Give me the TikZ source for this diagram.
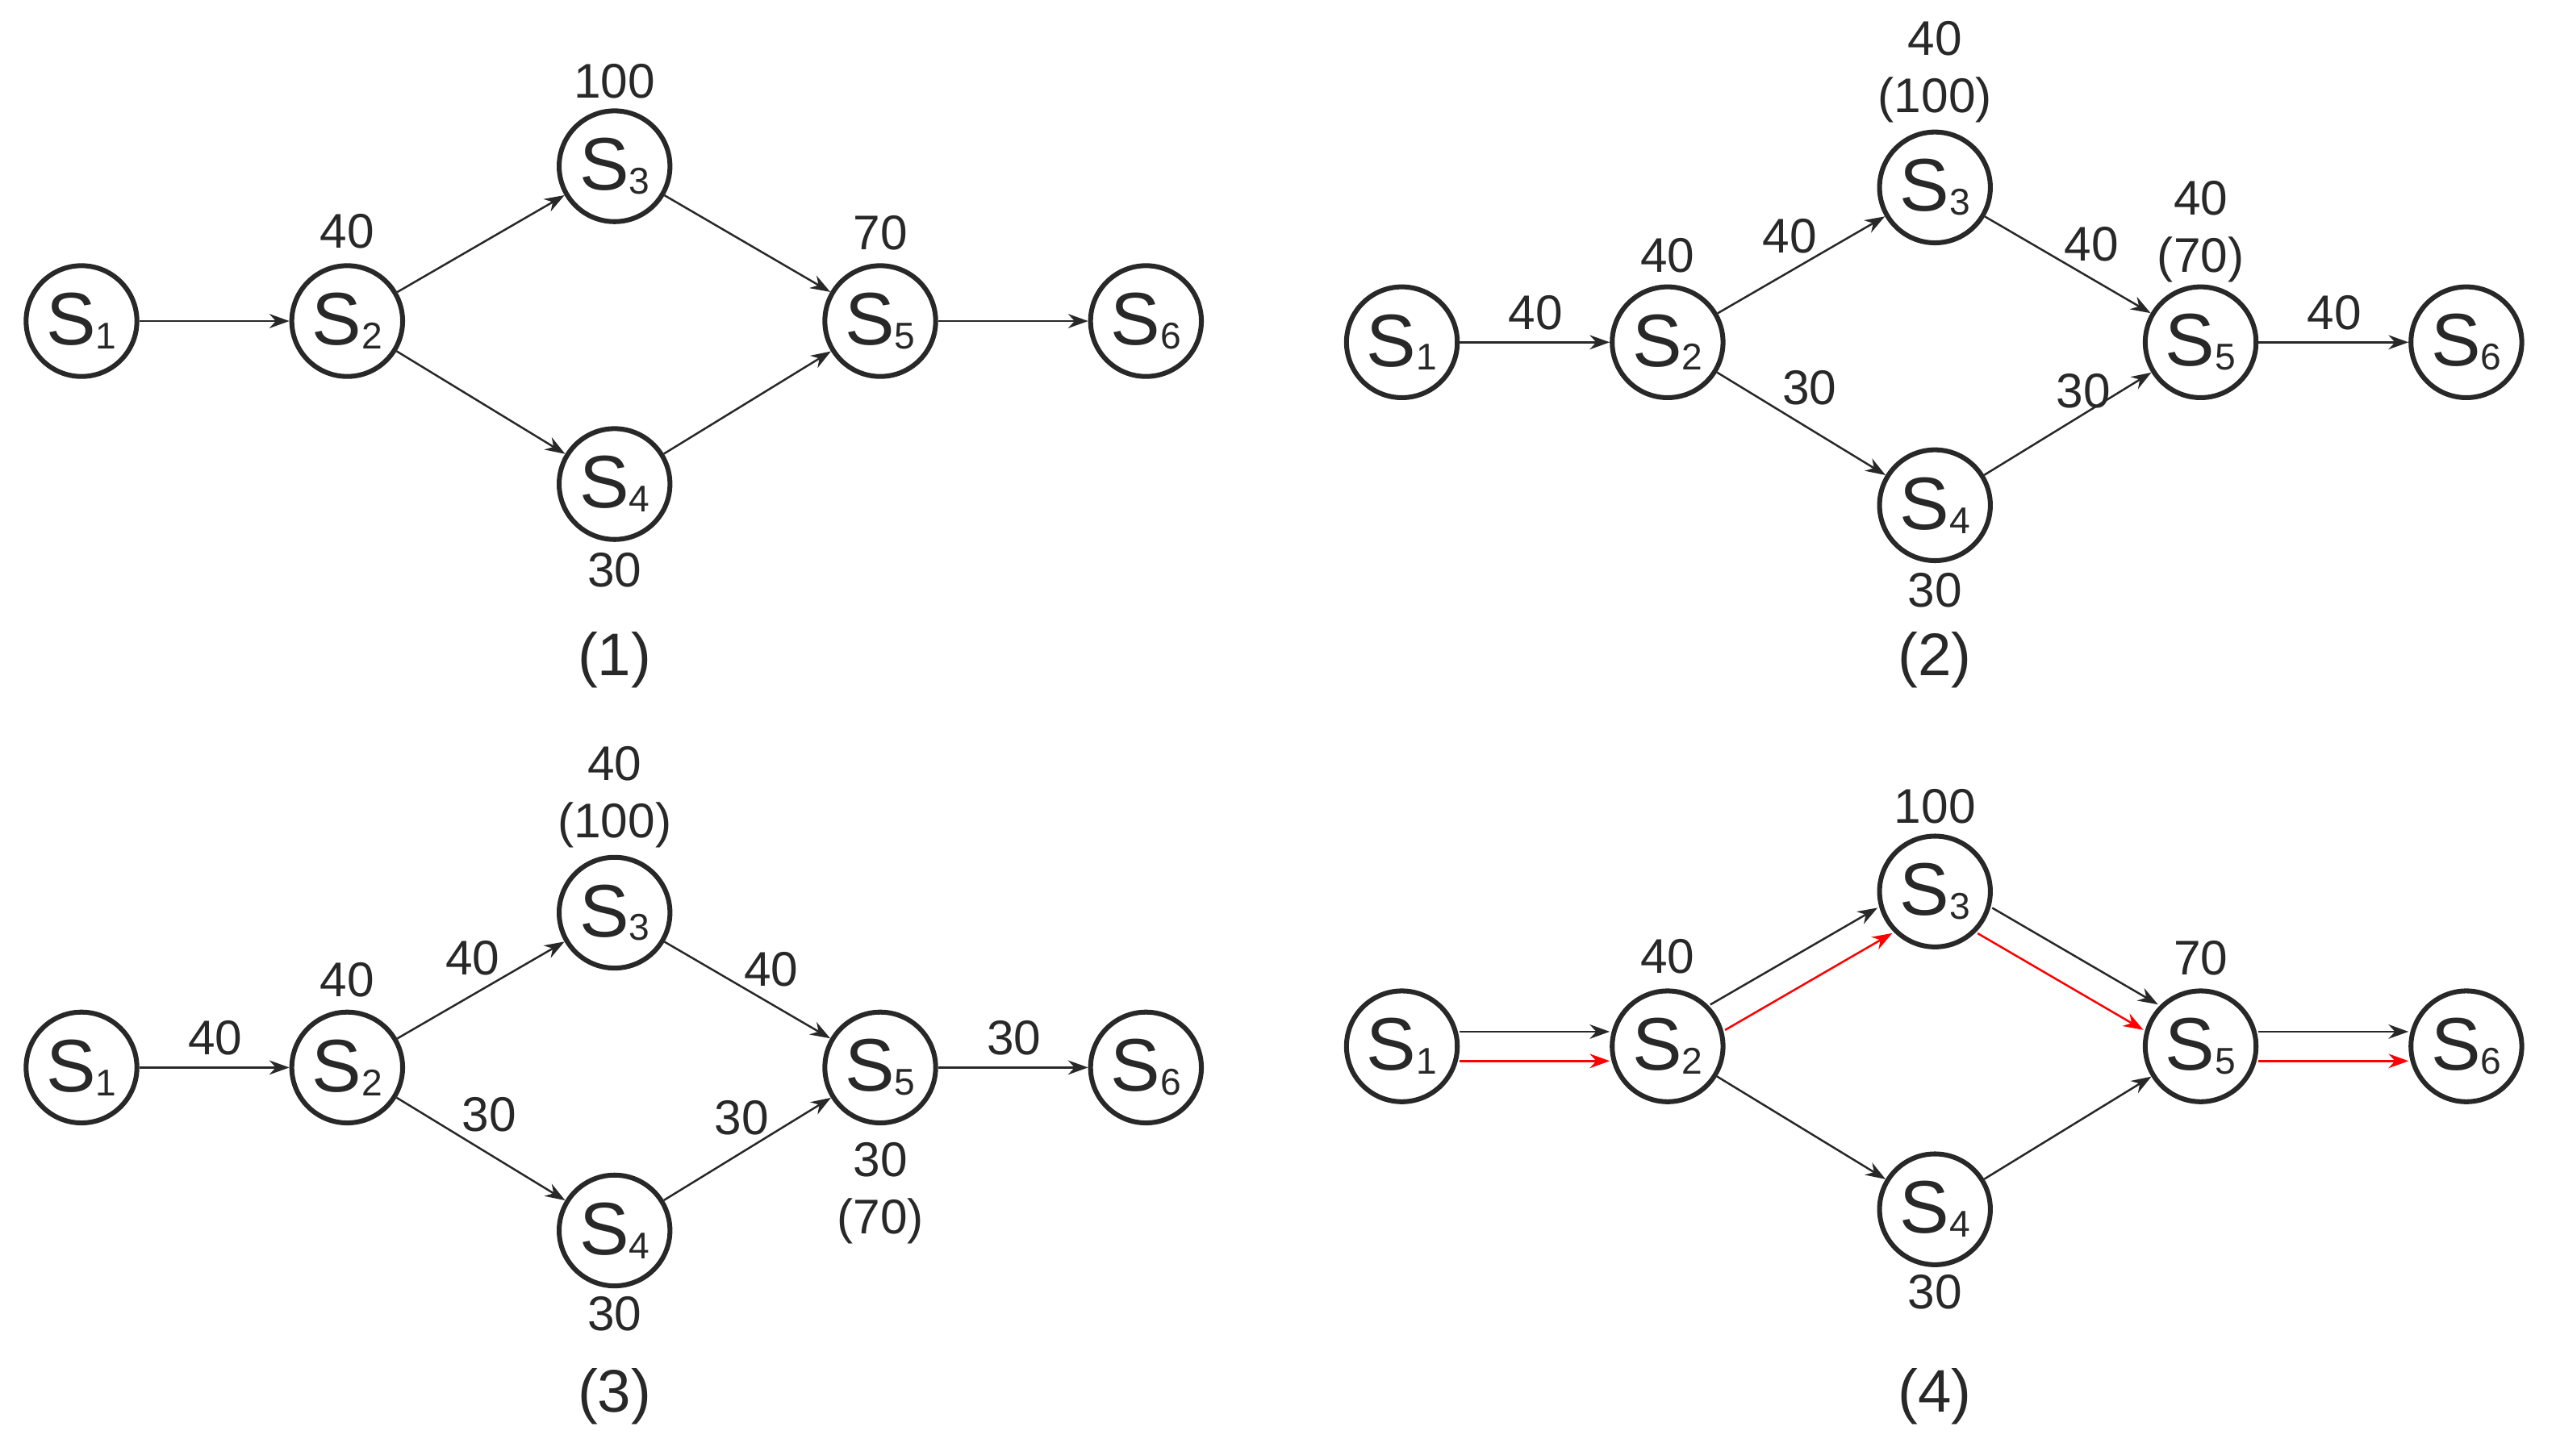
\documentclass[tikz,border=0pt]{standalone}
\usepackage{fontspec}
\setmainfont{Liberation Sans}
\usetikzlibrary{arrows.meta}
\definecolor{ink}{RGB}{40,40,40}
\newcommand{\st}[1]{\fontsize{26}{26}\selectfont S\raisebox{-0.1ex}{\fontsize{13}{13}\selectfont #1}}
\tikzset{
 st/.style={circle,draw=ink,text=ink,line width=1.7pt,minimum size=1.36cm,inner sep=0pt,fill=white},
 ed/.style={line width=0.7pt,draw=ink,-{Stealth[length=7pt,width=5pt]}},
 redd/.style={ed,draw=red,red},
 lb/.style={font=\fontsize{17}{20}\selectfont,text=ink,inner sep=0pt,align=center},
 captxt/.style={font=\fontsize{21}{21}\selectfont,text=ink,inner sep=0pt}
}
\begin{document}
\begin{tikzpicture}[x=0.02cm,y=-0.02cm]
\useasboundingbox (0,0) rectangle (1568,893);
% panel 1
\node[st] (a1) at (50,197) {\st1};
\node[st] (a2) at (213,197) {\st2};
\node[st] (a3) at (377,102) {\st3};
\node[st] (a4) at (377,297) {\st4};
\node[st] (a5) at (540,197) {\st5};
\node[st] (a6) at (703,197) {\st6};
\foreach \u/\v in {a1/a2,a2/a3,a2/a4,a3/a5,a4/a5,a5/a6} \draw[ed] (\u)--(\v);
\node[lb] (a3l) at (377,50) {100};
\node[lb] (a2l) at (213,142) {40};
\node[lb] (a5l) at (540,143) {70};
\node[lb] (a4l) at (377,350) {30};
\node[captxt] (ac) at (377,405) {(1)};
% panel 2
\node[st] (b1) at (860,210) {\st1};
\node[st] (b2) at (1023,210) {\st2};
\node[st] (b3) at (1187,115) {\st3};
\node[st] (b4) at (1187,310) {\st4};
\node[st] (b5) at (1350,210) {\st5};
\node[st] (b6) at (1513,210) {\st6};
\foreach \u/\v in {b1/b2,b2/b3,b2/b4,b3/b5,b4/b5,b5/b6} \draw[ed] (\u)--(\v);
\node[lb] (b3l) at (1187,44) {40\\(100)};
\node[lb] (b2l) at (1023,157) {40};
\node[lb] (b5l) at (1350,142) {40\\(70)};
\node[lb] (b4l) at (1187,362) {30};
\node[lb] (e1) at (942,192) {40};
\node[lb] (e2) at (1098,145) {40};
\node[lb] (e3) at (1110,238) {30};
\node[lb] (e4) at (1283,150) {40};
\node[lb] (e5) at (1278,240) {30};
\node[lb] (e6) at (1432,192) {40};
\node[captxt] (bc) at (1187,405) {(2)};
% panel 3
\node[st] (c1) at (50,655) {\st1};
\node[st] (c2) at (213,655) {\st2};
\node[st] (c3) at (377,560) {\st3};
\node[st] (c4) at (377,755) {\st4};
\node[st] (c5) at (540,655) {\st5};
\node[st] (c6) at (703,655) {\st6};
\foreach \u/\v in {c1/c2,c2/c3,c2/c4,c3/c5,c4/c5,c5/c6} \draw[ed] (\u)--(\v);
\node[lb] (c3l) at (377,489) {40\\(100)};
\node[lb] (c2l) at (213,601) {40};
\node[lb] (c5l) at (540,732) {30\\(70)};
\node[lb] (c4l) at (377,806) {30};
\node[lb] (f1) at (132,637) {40};
\node[lb] (f2) at (290,588) {40};
\node[lb] (f3) at (300,684) {30};
\node[lb] (f4) at (473,595) {40};
\node[lb] (f5) at (455,686) {30};
\node[lb] (f6) at (622,637) {30};
\node[captxt] (cc) at (377,857) {(3)};
% panel 4
\node[st] (d1) at (860,642) {\st1};
\node[st] (d2) at (1023,642) {\st2};
\node[st] (d3) at (1187,547) {\st3};
\node[st] (d4) at (1187,742) {\st4};
\node[st] (d5) at (1350,642) {\st5};
\node[st] (d6) at (1513,642) {\st6};
\draw[ed] (d2)--(d4);
\draw[ed] (d4)--(d5);
\foreach \u/\v in {d1/d2,d5/d6}{
 \draw[ed,transform canvas={yshift=9*0.02cm}] (\u)--(\v);
 \draw[redd,transform canvas={yshift=-9*0.02cm}] (\u)--(\v);}
\draw[ed,transform canvas={shift={(-4.5*0.02cm,7.8*0.02cm)}}] (d2)--(d3);
\draw[redd,transform canvas={shift={(4.5*0.02cm,-7.8*0.02cm)}}] (d2)--(d3);
\draw[ed,transform canvas={shift={(4.5*0.02cm,7.8*0.02cm)}}] (d3)--(d5);
\draw[redd,transform canvas={shift={(-4.5*0.02cm,-7.8*0.02cm)}}] (d3)--(d5);
\node[lb] (d3l) at (1187,495) {100};
\node[lb] (d2l) at (1023,587) {40};
\node[lb] (d5l) at (1350,588) {70};
\node[lb] (d4l) at (1187,793) {30};
\node[captxt] (dc) at (1187,857) {(4)};
\end{tikzpicture}
\end{document}
